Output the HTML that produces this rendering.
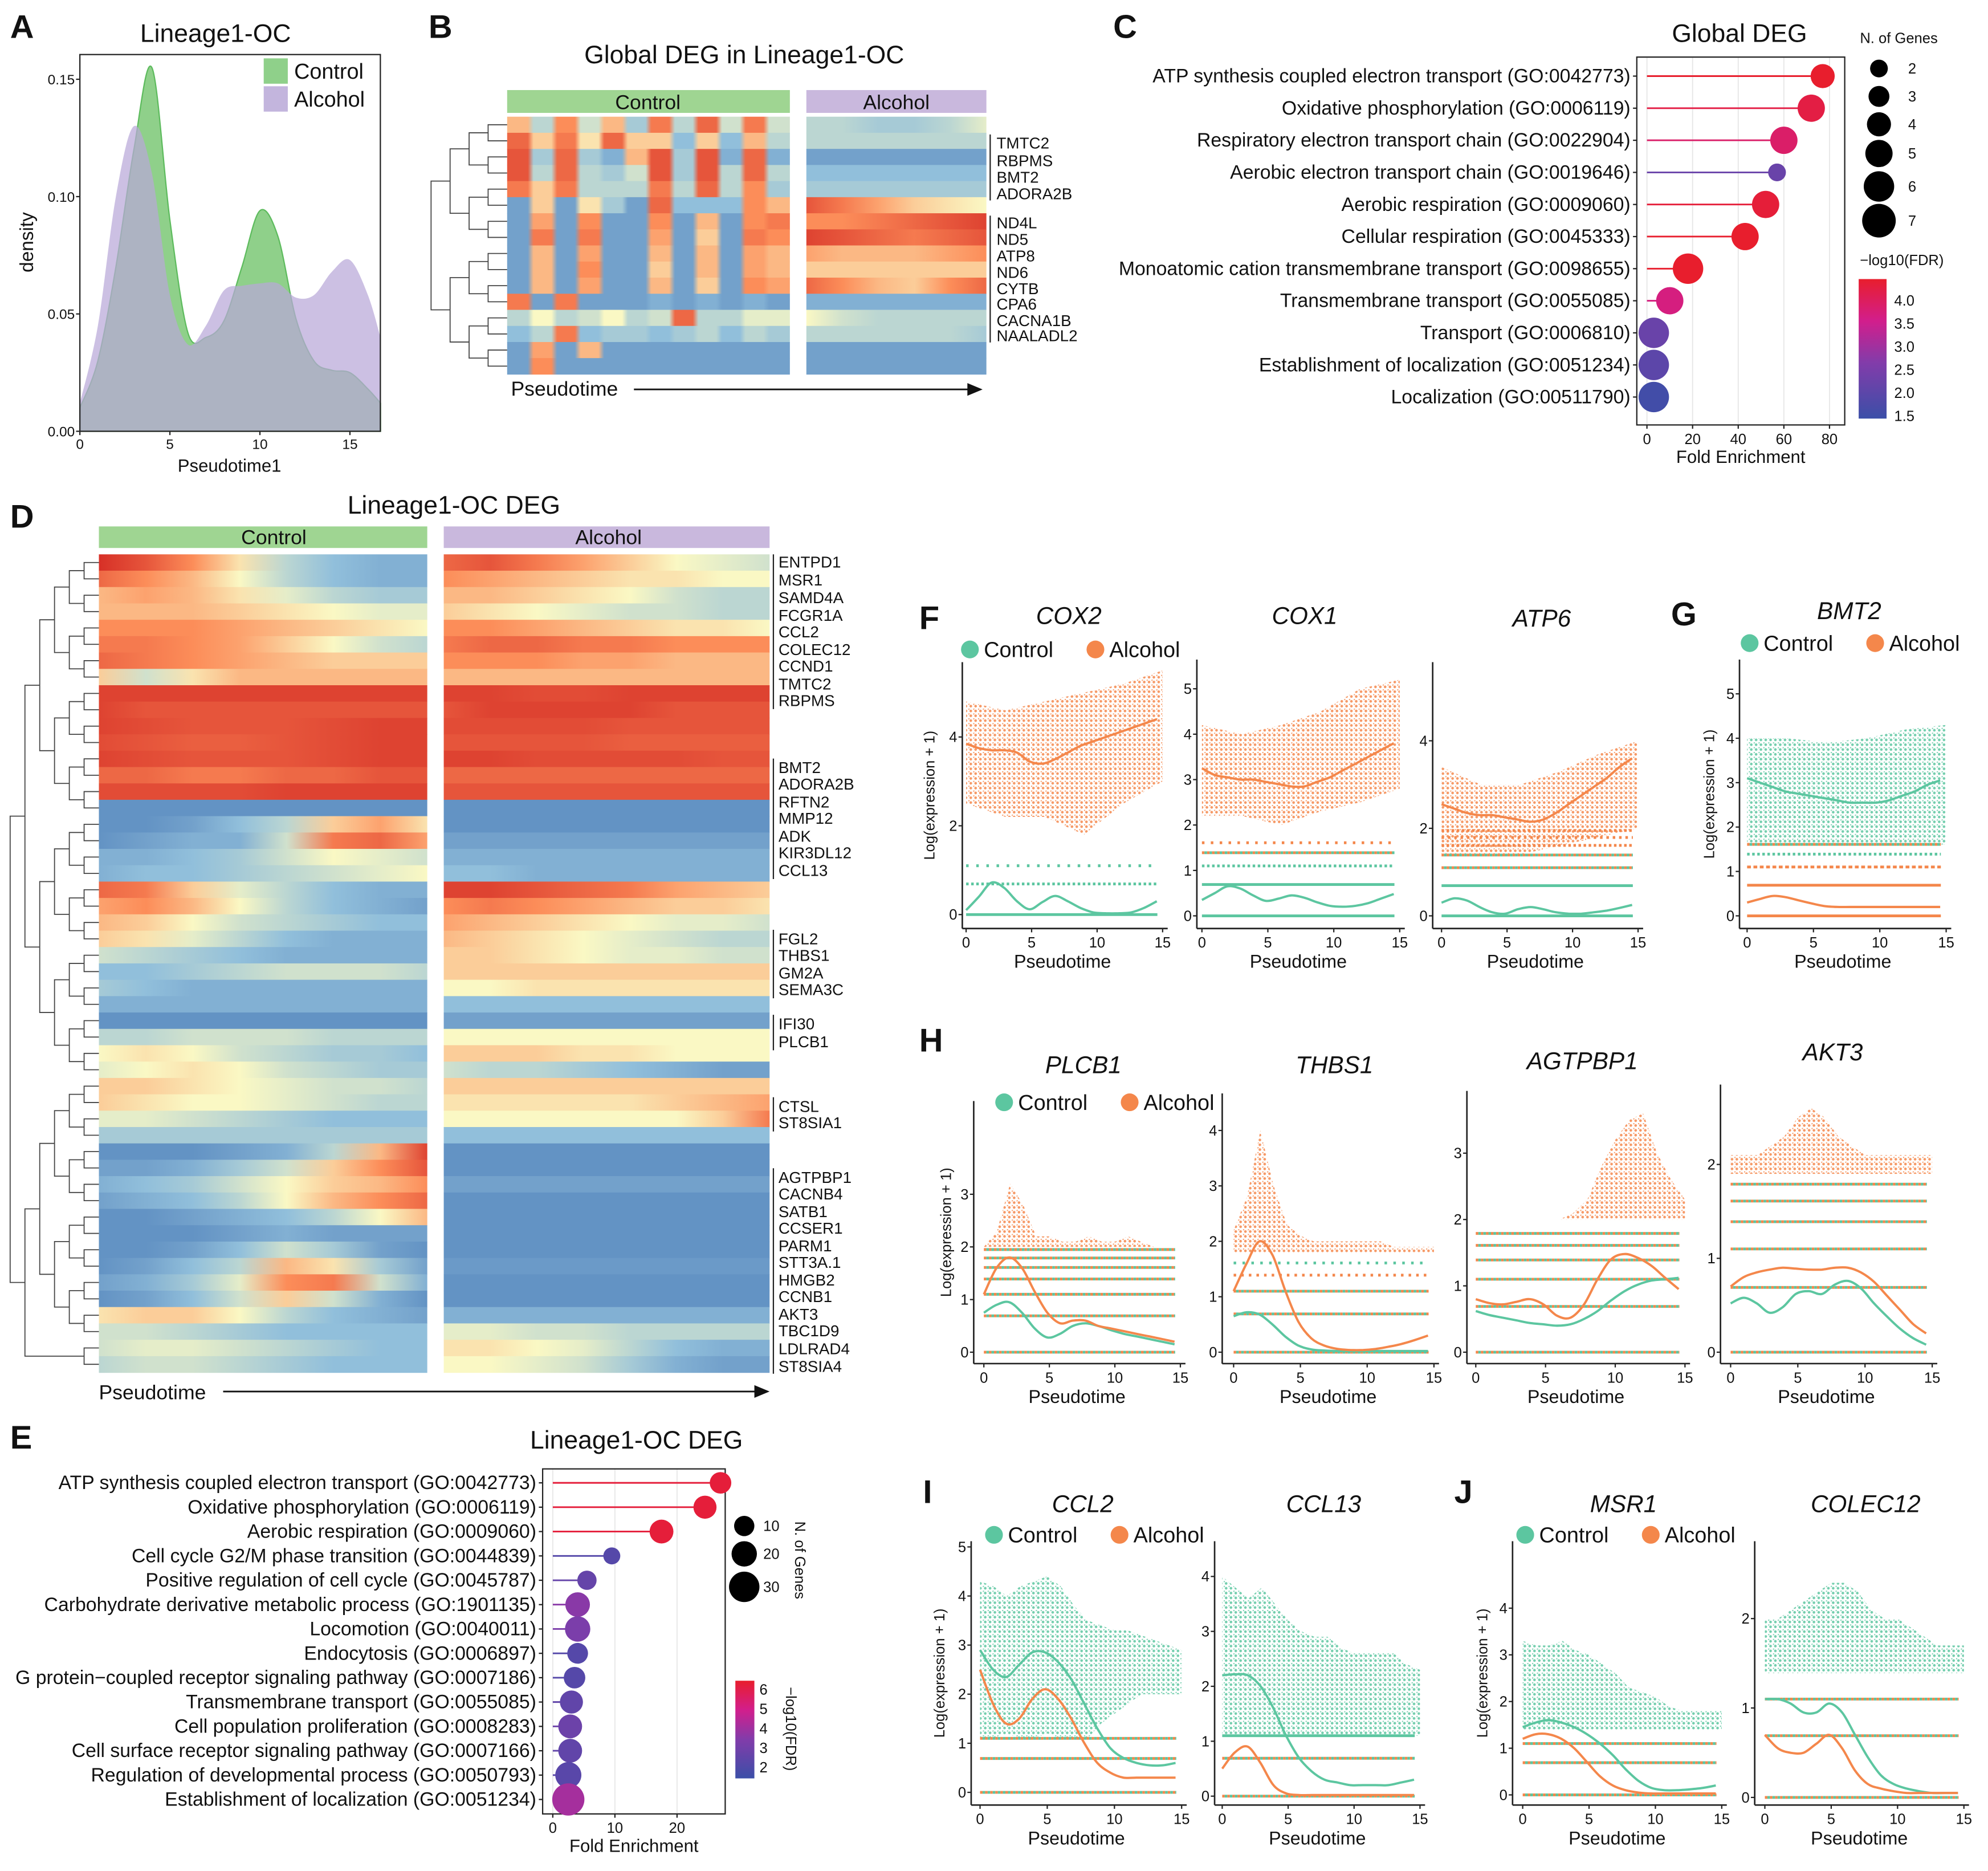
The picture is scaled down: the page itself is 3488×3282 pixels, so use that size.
<!DOCTYPE html>
<html><head><meta charset="utf-8"><style>
html,body{margin:0;padding:0;background:#fff}
svg{display:block;font-family:"Liberation Sans",sans-serif}
</style></head><body>
<svg id="fig" xmlns="http://www.w3.org/2000/svg" width="3488" height="3282" viewBox="0 0 1568 1475" preserveAspectRatio="none">
<defs id="defs"></defs>
</svg>
<script>
// ---------- DATA ----------
const densX = [0,1,2,3,4,5,6,7,8,9,10,11,12,13,14,15,16,16.7];
const densControl = [0.01,0.03,0.07,0.12,0.155,0.09,0.042,0.04,0.047,0.07,0.094,0.083,0.048,0.03,0.026,0.025,0.018,0.012];
const densAlcohol = [0.012,0.045,0.1,0.13,0.11,0.058,0.037,0.045,0.06,0.062,0.063,0.063,0.057,0.058,0.068,0.073,0.058,0.04];

const bGenes = ["TMTC2","RBPMS","BMT2","ADORA2B","ND4L","ND5","ATP8","ND6","CYTB","CPA6","CACNA1B","NAALADL2"];
const bGeneY = [113,127,140,153,176,189,202,215,228,240,253,265];
const bCtrl = [
[.3,-.3,.5,-.2,.3,-.4,.6,-.3,.7,-.2,.6,-.2],
[.7,.2,.6,.1,.7,.2,.2,-.5,.2,-.5,.3,-.3],
[.8,-.4,.7,-.4,-.6,.3,.8,-.4,.8,-.6,.7,-.6],
[.8,-.3,.7,-.3,-.4,-.2,.8,-.4,.8,-.3,.7,-.3],
[.6,.2,.6,-.3,-.3,-.3,.6,-.3,.7,-.3,.5,-.4],
[-.7,.2,-.7,.1,-.4,-.7,.7,-.5,-.5,-.5,.5,.3],
[-.7,.4,-.7,.5,-.7,-.7,.5,-.7,.3,-.7,.5,.6],
[-.7,.6,-.7,.6,-.7,-.7,.4,-.7,.2,-.7,.6,.5],
[-.7,.3,-.7,.4,-.7,-.7,.3,-.7,.3,-.7,.4,.3],
[-.7,.3,-.7,.5,-.7,-.7,.2,-.7,.3,-.7,.4,.3],
[-.7,.3,-.7,.4,-.7,-.7,.3,-.7,.2,-.7,.5,.4],
[.6,-.7,.6,-.7,-.7,-.7,-.6,-.7,-.6,-.7,-.6,-.7],
[-.3,0,-.3,-.2,0,-.3,-.2,.7,-.3,-.3,-.1,-.1],
[-.5,-.3,.6,-.5,-.4,-.4,-.5,-.4,-.3,-.5,-.3,-.4],
[-.7,.4,-.7,.3,-.7,-.7,-.7,-.7,-.7,-.7,-.7,-.7],
[-.7,.5,-.7,-.7,-.7,-.7,-.7,-.7,-.7,-.7,-.7,-.7]];
const bAlc = [
[-.3,-.3,-.4,-.4,-.3,-.1],[-.3,-.3,-.3,-.3,-.3,-.3],[-.7,-.7,-.7,-.7,-.7,-.7],[-.5,-.5,-.5,-.5,-.5,-.5],
[-.4,-.4,-.4,-.4,-.4,-.4],[.8,.6,.4,.2,.1,0],[.5,.5,.6,.7,.8,.9],[.9,.8,.7,.6,.7,.8],
[.4,.3,.3,.3,.4,.5],[.2,.2,.2,.2,.2,.2],[.7,.5,.3,.2,.5,.7],[-.6,-.6,-.6,-.6,-.6,-.6],
[0,-.2,-.3,-.3,-.3,-.3],[-.3,-.3,-.3,-.3,-.3,-.4],[-.7,-.7,-.7,-.7,-.7,-.7],[-.7,-.7,-.7,-.7,-.7,-.7]];

const cTerms = ["ATP synthesis coupled electron transport (GO:0042773)","Oxidative phosphorylation (GO:0006119)","Respiratory electron transport chain (GO:0022904)","Aerobic electron transport chain (GO:0019646)","Aerobic respiration (GO:0009060)","Cellular respiration (GO:0045333)","Monoatomic cation transmembrane transport (GO:0098655)","Transmembrane transport (GO:0055085)","Transport (GO:0006810)","Establishment of localization (GO:0051234)","Localization (GO:00511790)"];
const cFold = [77,72,60,57,52,43,18,10,3,3,3];
const cFdr = [4.2,4.0,3.7,2.2,4.1,4.2,4.3,3.5,2.2,2.0,1.6];
const cGenes = [4,5,5,2,5,5,6,5,6,6,6];
const cTicks = [0,20,40,60,80];

const eTerms = ["ATP synthesis coupled electron transport (GO:0042773)","Oxidative phosphorylation (GO:0006119)","Aerobic respiration (GO:0009060)","Cell cycle G2/M phase transition (GO:0044839)","Positive regulation of cell cycle (GO:0045787)","Carbohydrate derivative metabolic process (GO:1901135)","Locomotion (GO:0040011)","Endocytosis (GO:0006897)","G protein\u2212coupled receptor signaling pathway (GO:0007186)","Transmembrane transport (GO:0055085)","Cell population proliferation (GO:0008283)","Cell surface receptor signaling pathway (GO:0007166)","Regulation of developmental process (GO:0050793)","Establishment of localization (GO:0051234)"];
const eFold = [27,24.5,17.5,9.5,5.5,4,4,4,3.5,3,2.8,2.8,2.5,2.5];
const eFdr = [6,6,6,2.2,2.6,3.5,3.2,2.2,2.2,2.5,2.8,2.5,2.3,4.0];
const eGenes = [10,12,13,4,7,14,15,9,10,12,13,13,16,24];
const eTicks = [0,10,20];

const dGenes = ["ENTPD1","MSR1","SAMD4A","FCGR1A","CCL2","COLEC12","CCND1","TMTC2","RBPMS","BMT2","ADORA2B","RFTN2","MMP12","ADK","KIR3DL12","CCL13","FGL2","THBS1","GM2A","SEMA3C","IFI30","PLCB1","CTSL","ST8SIA1","AGTPBP1","CACNB4","SATB1","CCSER1","PARM1","STT3A.1","HMGB2","CCNB1","AKT3","TBC1D9","LDLRAD4","ST8SIA4"];
const dGeneY = [443,457,471,485,498,512,525,539,552,605,618,632,645,659,672,686,740,753,767,780,807,821,872,885,928,941,955,968,982,995,1009,1022,1036,1049,1063,1077];
const dCtrl = [
[1,.8,.5,.1,-.3,-.5,-.6,-.6],[.7,.5,.3,0,-.3,-.5,-.6,-.6],[.3,.4,.3,.1,-.1,-.3,-.4,-.4],[.3,.3,.3,.2,.1,0,-.1,-.1],
[.5,.5,.5,.4,.3,.2,.1,0],[.6,.6,.5,.4,.2,0,-.2,-.3],[.7,.6,.5,.4,.3,.2,.2,.2],[.2,-.2,.1,.3,.3,.3,.3,.3],
[.9,.9,.9,.9,.9,.9,.9,.9],[.9,.8,.8,.8,.8,.8,.8,.8],[.9,.85,.8,.8,.8,.85,.9,.9],[.85,.8,.75,.75,.8,.85,.9,.9],
[.9,.85,.8,.8,.8,.85,.9,.9],[.7,.7,.6,.6,.7,.7,.8,.8],[.85,.85,.85,.85,.9,.9,.9,.9],[-.8,-.8,-.8,-.8,-.8,-.8,-.8,-.8],
[-.8,-.8,-.7,-.5,-.3,.2,.4,.1],[-.8,-.7,-.6,-.6,-.2,.6,.7,.4],[-.6,-.6,-.5,-.4,-.2,0,-.1,-.2],[-.6,-.5,-.5,-.4,-.3,-.2,-.1,0],
[.7,.6,.2,-.1,-.3,-.5,-.6,-.6],[.4,.5,.3,0,-.3,-.5,-.6,-.7],[.3,.2,0,-.2,-.3,-.4,-.5,-.5],[.2,.1,-.1,-.3,-.5,-.6,-.6,-.6],
[-.2,-.3,-.4,-.5,-.6,-.6,-.6,-.6],[-.5,-.5,-.4,-.3,-.2,-.2,-.2,-.3],[-.4,-.5,-.6,-.6,-.6,-.6,-.6,-.6],[-.6,-.6,-.6,-.6,-.6,-.6,-.6,-.6],
[-.8,-.8,-.8,-.8,-.8,-.8,-.8,-.8],[-.3,-.3,-.2,-.2,-.2,-.3,-.3,-.3],[0,.1,0,-.2,-.3,-.4,-.4,-.5],[-.1,0,.1,0,-.2,-.3,-.4,-.4],
[.2,.2,.1,0,-.1,-.2,-.2,-.3],[.2,.1,0,0,-.1,-.2,-.3,-.3],[-.1,-.1,-.2,-.3,-.4,-.5,-.5,-.5],[-.4,-.4,-.4,-.4,-.4,-.4,-.4,-.4],
[-.8,-.8,-.8,-.7,-.6,-.3,.3,.9],[-.7,-.7,-.6,-.4,-.2,.2,.5,.8],[-.6,-.5,-.4,-.2,0,.2,.3,.5],[-.7,-.6,-.5,-.3,0,.3,.5,.7],
[-.8,-.8,-.7,-.6,-.5,-.3,0,.3],[-.8,-.8,-.8,-.7,-.6,-.7,-.7,-.7],[-.8,-.8,-.7,-.5,-.2,-.4,-.7,-.8],[-.8,-.7,-.5,-.3,.3,.1,-.4,-.7],
[-.7,-.6,-.4,-.1,.5,.6,-.2,-.6],[-.8,-.7,-.5,-.2,.2,-.2,-.6,-.8],[.1,.2,.2,0,-.3,-.5,-.6,-.7],[-.2,-.2,-.3,-.4,-.5,-.5,-.5,-.5],
[-.2,-.1,-.1,-.2,-.3,-.4,-.5,-.5],[-.3,-.2,-.2,-.3,-.4,-.5,-.5,-.5]];
const dAlc = [
[.7,.8,.6,.4,.2,0,-.1,-.2],[.5,.4,.3,.2,.1,.1,0,0],[.3,.3,.2,.1,0,-.2,-.3,-.3],[.2,.1,0,-.1,-.2,-.2,-.3,-.3],
[.5,.5,.4,.3,.2,.1,.1,0],[.6,.7,.7,.6,.6,.5,.5,.5],[.5,.5,.5,.4,.4,.3,.3,.3],[.3,.3,.3,.3,.3,.3,.3,.3],
[.9,.9,.85,.85,.9,.9,.9,.9],[.8,.9,.9,.9,.9,.8,.8,.8],[.85,.85,.85,.85,.8,.8,.8,.8],[.8,.8,.8,.8,.75,.75,.75,.75],
[.9,.9,.85,.85,.85,.85,.8,.8],[.7,.7,.7,.7,.7,.7,.7,.7],[.8,.8,.8,.8,.8,.8,.8,.8],[-.8,-.8,-.8,-.8,-.8,-.8,-.8,-.8],
[-.8,-.8,-.8,-.8,-.8,-.8,-.8,-.8],[-.7,-.7,-.7,-.7,-.7,-.7,-.7,-.7],[-.6,-.6,-.6,-.6,-.6,-.6,-.6,-.6],[-.5,-.5,-.6,-.6,-.6,-.6,-.6,-.6],
[.9,.9,.8,.7,.6,.4,.3,.2],[.5,.6,.5,.4,.3,.2,.2,.1],[.4,.3,.2,.1,0,-.1,-.1,-.2],[.3,.2,.1,0,-.1,-.2,-.3,-.3],
[.2,.2,.1,0,-.1,-.1,-.2,-.2],[.2,.2,.2,.2,.2,.2,.2,.2],[0,0,.1,.1,.1,.1,.1,.1],[-.5,-.5,-.5,-.5,-.5,-.5,-.5,-.5],
[-.7,-.7,-.7,-.7,-.7,-.7,-.7,-.7],[0,0,0,0,0,0,0,0],[.2,.2,.2,.1,.1,0,0,0],[-.2,-.3,-.3,-.4,-.5,-.6,-.7,-.7],
[.2,.2,.2,.2,.2,.2,.2,.2],[.1,.1,.1,.1,.1,.2,.3,.4],[0,0,0,0,0,0,.2,.6],[-.5,-.5,-.5,-.5,-.5,-.5,-.5,-.5],
[-.8,-.8,-.8,-.8,-.8,-.8,-.8,-.8],[-.8,-.8,-.8,-.8,-.8,-.8,-.8,-.8],[-.7,-.7,-.7,-.7,-.7,-.7,-.7,-.7],[-.8,-.8,-.8,-.8,-.8,-.8,-.8,-.8],
[-.8,-.8,-.8,-.8,-.8,-.8,-.8,-.8],[-.8,-.8,-.8,-.8,-.8,-.8,-.8,-.8],[-.8,-.8,-.8,-.8,-.8,-.8,-.8,-.8],[-.75,-.75,-.75,-.75,-.75,-.75,-.75,-.75],
[-.8,-.8,-.8,-.8,-.8,-.8,-.8,-.8],[-.8,-.8,-.8,-.8,-.8,-.8,-.8,-.8],[-.6,-.6,-.6,-.6,-.6,-.6,-.6,-.6],[-.1,-.1,-.2,-.2,-.3,-.3,-.3,-.3],
[.1,.1,0,-.1,-.3,-.5,-.6,-.6],[0,0,-.1,-.2,-.4,-.6,-.7,-.7]];

const sTime = [0,1,2,3,4,5,6,7,8,9,10,11,12,13,14,15];
const cox2Ctrl=[0.1,0.4,0.72,0.6,0.3,0.12,0.28,0.42,0.3,0.15,0.05,0.03,0.03,0.05,0.15,0.3];
const cox2Alc=[3.85,3.75,3.7,3.7,3.65,3.45,3.4,3.5,3.65,3.8,3.9,4.0,4.1,4.2,4.3,4.4];
const cox1Ctrl=[0.35,0.5,0.65,0.6,0.45,0.33,0.38,0.45,0.4,0.3,0.22,0.2,0.22,0.28,0.38,0.48];
const cox1Alc=[3.25,3.1,3.05,3.0,3.0,2.95,2.9,2.85,2.85,2.95,3.05,3.2,3.35,3.5,3.65,3.8];
const atp6Ctrl=[0.3,0.4,0.35,0.2,0.08,0.05,0.15,0.2,0.15,0.08,0.05,0.05,0.08,0.12,0.18,0.25];
const atp6Alc=[2.55,2.45,2.35,2.3,2.3,2.25,2.2,2.15,2.2,2.35,2.55,2.75,2.95,3.15,3.4,3.6];
const bmt2Ctrl=[3.1,3.0,2.9,2.8,2.75,2.7,2.65,2.6,2.55,2.55,2.55,2.6,2.7,2.8,2.95,3.05];
const bmt2Alc=[0.3,0.38,0.45,0.42,0.35,0.28,0.22,0.2,0.2,0.2,0.2,0.2,0.2,0.2,0.2,0.2];
const plcb1Ctrl=[0.75,0.9,0.95,0.75,0.45,0.28,0.35,0.5,0.55,0.5,0.42,0.35,0.3,0.25,0.2,0.15];
const plcb1Alc=[1.1,1.6,1.8,1.6,1.15,0.75,0.55,0.6,0.6,0.5,0.45,0.4,0.35,0.3,0.25,0.2];
const thbs1Ctrl=[0.65,0.72,0.68,0.5,0.28,0.12,0.05,0.03,0.02,0.02,0.02,0.02,0.02,0.02,0.02,0.02];
const thbs1Alc=[1.1,1.6,2.0,1.75,1.1,0.55,0.25,0.12,0.06,0.04,0.04,0.06,0.1,0.15,0.22,0.3];
const agtCtrl=[0.62,0.56,0.52,0.48,0.44,0.42,0.4,0.42,0.5,0.62,0.78,0.92,1.02,1.08,1.1,1.12];
const agtAlc=[0.8,0.74,0.72,0.76,0.8,0.72,0.55,0.52,0.72,1.1,1.4,1.48,1.42,1.3,1.12,0.95];
const akt3Ctrl=[0.52,0.58,0.52,0.42,0.48,0.62,0.65,0.62,0.72,0.76,0.68,0.52,0.38,0.25,0.15,0.08];
const akt3Alc=[0.7,0.8,0.85,0.88,0.9,0.89,0.88,0.88,0.9,0.9,0.85,0.75,0.6,0.45,0.3,0.2];
const ccl2Ctrl=[2.9,2.5,2.35,2.6,2.85,2.85,2.65,2.3,1.8,1.3,0.9,0.7,0.6,0.55,0.55,0.6];
const ccl2Alc=[2.5,1.8,1.4,1.5,1.9,2.1,1.9,1.5,1.0,0.6,0.4,0.3,0.3,0.3,0.3,0.3];
const ccl13Ctrl=[2.2,2.22,2.2,2.0,1.6,1.1,0.7,0.45,0.3,0.25,0.2,0.2,0.2,0.2,0.25,0.3];
const ccl13Alc=[0.5,0.8,0.9,0.6,0.2,0.05,0.02,0.02,0.02,0.02,0.02,0.02,0.02,0.02,0.02,0.02];
const msr1Ctrl=[1.45,1.55,1.6,1.55,1.45,1.3,1.1,0.85,0.55,0.3,0.15,0.1,0.1,0.12,0.15,0.2];
const msr1Alc=[1.2,1.3,1.3,1.2,1.0,0.7,0.4,0.2,0.1,0.05,0.03,0.03,0.03,0.03,0.03,0.03];
const colCtrl=[1.1,1.1,1.05,0.95,0.95,1.05,0.95,0.7,0.45,0.25,0.15,0.1,0.07,0.05,0.05,0.05];
const colAlc=[0.7,0.55,0.5,0.5,0.6,0.7,0.55,0.3,0.15,0.1,0.07,0.05,0.05,0.05,0.05,0.05];
const cox2Lo=[2.5,2.2,2.2,1.8,2.5,3.0], cox2Hi=[4.8,4.6,4.8,5.0,5.2,5.5];
const cox1Lo=[2.2,2.2,2.0,2.3,2.5,2.8], cox1Hi=[4.2,4.0,4.2,4.5,5.0,5.2];
const atp6Lo=[1.4,1.4,1.4,1.6,1.8,2.0], atp6Hi=[3.4,3.0,3.0,3.3,3.7,4.0];
const bmt2Lo=[1.6,1.6,1.6,1.6,1.6,1.6], bmt2Hi=[4.0,4.0,3.9,4.0,4.2,4.3];
const plcb1Lo=[2,2,2,2,2,2,2,2,2,2,2,2,2,2,2,2], plcb1Hi=[2,2.3,3.2,2.8,2.2,2.2,2.1,2.1,2.2,2.1,2.1,2.2,2.1,2,2,2];
const thbs1Lo=[1.8,1.8,1.8,1.8,1.8,1.8,1.8,1.8,1.8,1.8,1.8,1.8,1.8,1.8,1.8,1.8], thbs1Hi=[2.2,2.8,4,3,2.3,2.1,2,2,2,2,2,2,1.9,1.9,1.9,1.9];
const agtLo=[2,2,2,2,2,2,2,2,2,2,2,2,2,2,2,2], agtHi=[2,2,2,2,2,2,2,2.1,2.3,2.8,3.2,3.5,3.6,3,2.6,2.3];
const akt3Lo=[1.9,1.9,1.9,1.9,1.9,1.9,1.9,1.9,1.9,1.9,1.9,1.9,1.9,1.9,1.9,1.9], akt3Hi=[2.1,2.1,2.1,2.2,2.3,2.5,2.6,2.5,2.3,2.2,2.1,2.1,2.1,2.1,2.1,2.1];
const ccl2Lo=[1.1,1.1,1.2,1.1,1.1,1.2,1.1,1.1,1.1,1.4,1.6,1.8,2,2,2,2], ccl2Hi=[4.3,4.2,4.0,4.2,4.3,4.4,4.2,3.8,3.5,3.4,3.3,3.3,3.2,3.1,3,2.9];
const ccl13Lo=[1.1,1.1,1.1,1.1,1.1,1.1,1.1,1.1,1.1,1.1,1.1,1.1,1.1,1.1,1.1,1.1], ccl13Hi=[4,3.8,3.6,3.8,3.5,3.2,3,2.9,2.9,2.7,2.6,2.6,2.6,2.6,2.4,2.3];
const msr1Lo=[1.39,1.39,1.39,1.39,1.39,1.39,1.39,1.39,1.39,1.39,1.39,1.39,1.39,1.39,1.39,1.39], msr1Hi=[3.3,3.2,3.2,3.3,3.1,3,2.8,2.6,2.3,2.2,2.1,1.9,1.8,1.8,1.8,1.8];
const colLo=[1.39,1.39,1.39,1.39,1.39,1.39,1.39,1.39,1.39,1.39,1.39,1.39,1.39,1.39,1.39,1.39], colHi=[2,2,2.1,2.2,2.3,2.4,2.4,2.3,2.1,2,2,1.9,1.8,1.7,1.7,1.7];

// ---------- RENDER ----------
const NS="http://www.w3.org/2000/svg";
const svg=document.getElementById('fig');
const defs=document.getElementById('defs');
function el(tag,attrs,parent,text){const e=document.createElementNS(NS,tag);for(const k in attrs)e.setAttribute(k,attrs[k]);if(text!==undefined)e.textContent=text;(parent||svg).appendChild(e);return e;}
function txt(x,y,s,size,opts,parent){const o=Object.assign({x:x,y:y,'font-size':size,fill:'#111'},opts||{});return el('text',o,parent,s);}
function lerpC(a,b,t){return a.map((v,i)=>Math.round(v+(b[i]-v)*t));}
const rdStops=[[-1,[69,117,180]],[-0.5,[145,191,219]],[0,[250,248,196]],[0.5,[252,141,89]],[1,[215,48,39]]];
function rd(v){v=Math.max(-1,Math.min(1,v));for(let i=0;i<rdStops.length-1;i++){const a=rdStops[i],b=rdStops[i+1];if(v<=b[0]){const c=lerpC(a[1],b[1],(v-a[0])/(b[0]-a[0]));return `rgb(${c})`;}}return 'rgb(215,48,39)';}
const fdrStops=[[0,[59,79,168]],[0.4,[130,60,170]],[0.7,[210,30,140]],[1,[232,30,45]]];
function fdrCol(v,lo,hi){const t=Math.max(0,Math.min(1,(v-lo)/(hi-lo)));for(let i=0;i<fdrStops.length-1;i++){const a=fdrStops[i],b=fdrStops[i+1];if(t<=b[0]){return `rgb(${lerpC(a[1],b[1],(t-a[0])/(b[0]-a[0]))})`;}}return 'rgb(232,30,45)';}
let gid=0;
function rowGrad(vals,sharp){const id='g'+(gid++);const g=el('linearGradient',{id:id},defs);const n=vals.length;
 if(n===1){el('stop',{offset:0,'stop-color':rd(vals[0])},g);el('stop',{offset:1,'stop-color':rd(vals[0])},g);}
 else if(sharp){vals.forEach((v,i)=>{el('stop',{offset:i/n+0.01,'stop-color':rd(v)},g);el('stop',{offset:(i+1)/n-0.01,'stop-color':rd(v)},g);});}
 else vals.forEach((v,i)=>el('stop',{offset:i/(n-1),'stop-color':rd(v)},g));return 'url(#'+id+')';}
function smoothPath(pts){let d='M'+pts[0][0].toFixed(1)+','+pts[0][1].toFixed(1);for(let i=0;i<pts.length-1;i++){const p0=pts[i-1]||pts[i],p1=pts[i],p2=pts[i+1],p3=pts[i+2]||p2;const c1=[p1[0]+(p2[0]-p0[0])/6,p1[1]+(p2[1]-p0[1])/6],c2=[p2[0]-(p3[0]-p1[0])/6,p2[1]-(p3[1]-p1[1])/6];d+=`C${c1[0].toFixed(1)},${c1[1].toFixed(1)} ${c2[0].toFixed(1)},${c2[1].toFixed(1)} ${p2[0].toFixed(1)},${p2[1].toFixed(1)}`;}return d;}
function dendro(ys,xR,xL,parent){let nodes=ys.map(y=>({y:y,x:xR}));const levels=Math.ceil(Math.log2(ys.length));let L=1;
 while(nodes.length>1){const nx=xR-(xR-xL)*L/levels;const nn=[];for(let i=0;i<nodes.length;i+=2){if(i+1<nodes.length){const a=nodes[i],b=nodes[i+1];el('path',{d:`M${a.x},${a.y}H${nx}V${b.y}H${b.x}`,fill:'none',stroke:'#444','stroke-width':0.8},parent);nn.push({y:(a.y+b.y)/2,x:nx});}else nn.push(nodes[i]);}nodes=nn;L++;}}
const GREEN='#5cc6a0',ORANGE='#f4874b';
function pattern(id,col,sp){const p=el('pattern',{id:id,width:sp,height:sp,patternUnits:'userSpaceOnUse'},defs);el('circle',{cx:sp/2,cy:sp/2,r:1.05,fill:col},p);el('circle',{cx:0,cy:0,r:1.05,fill:col},p);}
pattern('dotO',ORANGE,3.8);pattern('dotG',GREEN,3.8);

[['A',8,30],['B',338,30],['C',878,30],['D',8,416],['E',8,1142],['F',725,496],['G',1318,493],['H',725,829],['I',728,1185],['J',1147,1185]].forEach(l=>{const t=txt(l[1],l[2],l[0],26,{'font-weight':'bold'});});

// ---------- PANEL A ----------
(function(){const g=el('g',{});
 const X=v=>63+v*14.2, Y=v=>340-v*1850;
 txt(170,33,'Lineage1-OC',20,{'text-anchor':'middle'},g);
 const area=(arr,fill,op,stroke,name)=>{const pts=densX.map((x,i)=>[X(x),Y(arr[i])]);const d=smoothPath(pts)+`L${X(16.7)},340L63,340Z`;const p=el('path',{d:d,fill:fill,'fill-opacity':op,stroke:stroke,'stroke-width':1},g);};
 area(densControl,'#8fd08a',1,'#5dbb5d','density-control');
 area(densAlcohol,'#b8a8d8',0.72,'none','density-alcohol');
 el('rect',{x:63,y:43,width:237,height:297,fill:'none',stroke:'#222','stroke-width':1},g);
 [0,0.05,0.10,0.15].forEach(v=>{el('line',{x1:60,x2:63,y1:Y(v),y2:Y(v),stroke:'#222'},g);txt(59,Y(v)+4,v.toFixed(2),11,{'text-anchor':'end'},g);});
 [0,5,10,15].forEach(v=>{el('line',{x1:X(v),x2:X(v),y1:340,y2:343,stroke:'#222'},g);txt(X(v),354,String(v),11,{'text-anchor':'middle'},g);});
 txt(181,372,'Pseudotime1',14,{'text-anchor':'middle'},g);
 txt(26,191,'density',15,{'text-anchor':'middle',transform:'rotate(-90 26 191)'},g);
 el('rect',{x:208,y:46,width:19,height:20,fill:'#8fd08a'},g);txt(232,62,'Control',17,{},g);
 el('rect',{x:208,y:68,width:19,height:20,fill:'#c3b5dd'},g);txt(232,84,'Alcohol',17,{},g);
})();

// ---------- PANEL B ----------
(function(){const g=el('g',{});
 txt(587,50,'Global DEG in Lineage1-OC',20,{'text-anchor':'middle'},g);
 el('rect',{x:400,y:71,width:223,height:18,fill:'#9fd592'},g);txt(511,86,'Control',16,{'text-anchor':'middle'},g);
 el('rect',{x:636,y:71,width:142,height:18,fill:'#c9b8dd'},g);txt(707,86,'Alcohol',16,{'text-anchor':'middle'},g);
 const top=92,rh=(295-92)/bCtrl.length;const ys=[];
 bCtrl.forEach((r,i)=>{const y=top+i*rh;ys.push(y+rh/2);
  const a=el('rect',{x:400,y:y,width:223,height:rh+0.3,fill:rowGrad(r,true)},g);
  const b=el('rect',{x:636,y:y,width:142,height:rh+0.3,fill:rowGrad(bAlc[i],false)},g);});
 dendro(ys,400,340,g);
 el('line',{x1:781,x2:781,y1:106,y2:158,stroke:'#222'},g);el('line',{x1:781,x2:781,y1:170,y2:270,stroke:'#222'},g);
 bGenes.forEach((s,i)=>txt(786,bGeneY[i]+4,s,12.5,{},g));
 txt(403,312,'Pseudotime',16,{},g);el('line',{x1:500,x2:770,y1:307,y2:307,stroke:'#111','stroke-width':1.3},g);el('path',{d:'M775,307L763,302L763,312Z',fill:'#111'},g);
})();

// ---------- LOLLIPOP ----------
function lollipop(cfg){const g=el('g',{});
 const X=v=>cfg.x0+v*cfg.ppu;
 txt(cfg.tx,cfg.ty,cfg.title,20,{'text-anchor':'middle'},g);
 cfg.ticks.forEach(t=>el('line',{x1:X(t),x2:X(t),y1:cfg.top,y2:cfg.bot,stroke:'#e6e6e6','stroke-width':0.8},g));
 el('rect',{x:cfg.left,y:cfg.top,width:cfg.right-cfg.left,height:cfg.bot-cfg.top,fill:'none',stroke:'#222','stroke-width':1},g);
 cfg.terms.forEach((t,i)=>{const y=cfg.y0+i*cfg.dy;const c=fdrCol(cfg.fdr[i],cfg.flo,cfg.fhi);
  el('line',{x1:cfg.left-3,x2:cfg.left,y1:y,y2:y,stroke:'#222'},g);
  const lab=txt(cfg.left-5,y+5,t,cfg.fs,{'text-anchor':'end'},g);
  const ln=el('line',{x1:X(0),x2:X(cfg.fold[i]),y1:y,y2:y,stroke:c,'stroke-width':1.3},g);
  const dot=el('circle',{cx:X(cfg.fold[i]),cy:y,r:cfg.rad(cfg.genes[i]),fill:c},g);});
 cfg.ticks.forEach(t=>{el('line',{x1:X(t),x2:X(t),y1:cfg.bot,y2:cfg.bot+3,stroke:'#222'},g);txt(X(t),cfg.bot+15,String(t),11.5,{'text-anchor':'middle'},g);});
 txt((cfg.left+cfg.right)/2,cfg.bot+30,'Fold Enrichment',14,{'text-anchor':'middle'},g);
 return g;}
lollipop({name:'panel-c-lollipop',title:'Global DEG',tx:1372,ty:33,terms:cTerms,fold:cFold,fdr:cFdr,genes:cGenes,ticks:cTicks,x0:1299,ppu:1.8,left:1291,right:1455,top:45,bot:335,y0:60,dy:25.3,fs:15.2,flo:1.5,fhi:4.2,rad:n=>4.5+n*1.25});
(function(){const g=el('g',{});
 txt(1467,34,'N. of Genes',11.5,{},g);
 [2,3,4,5,6,7].forEach((n,i)=>{const y=[54,76,98,121,147,174][i];el('circle',{cx:1482,cy:y,r:4.5+n*1.25,fill:'#000'},g);txt(1505,y+4,String(n),11.5,{},g);});
 txt(1467,209,'\u2212log10(FDR)',11.5,{},g);
 const lg=el('linearGradient',{id:'cbarC',x1:0,y1:1,x2:0,y2:0},defs);fdrStops.forEach(s=>el('stop',{offset:s[0],'stop-color':`rgb(${s[1]})`},lg));
 el('rect',{x:1466,y:220,width:22,height:110,fill:'url(#cbarC)'},g);
 [4.0,3.5,3.0,2.5,2.0,1.5].forEach((v,i)=>txt(1494,241+i*18.2,v.toFixed(1),11.5,{},g));})();

lollipop({name:'panel-e-lollipop',title:'Lineage1-OC DEG',tx:502,ty:1142,terms:eTerms,fold:eFold,fdr:eFdr,genes:eGenes,ticks:eTicks,x0:436,ppu:4.9,left:428,right:572,top:1158,bot:1430,y0:1169,dy:19.2,fs:15.2,flo:1.5,fhi:6.2,rad:n=>5.5+n*0.3});
(function(){const g=el('g',{});
 [10,20,30].forEach((n,i)=>{const y=[1203,1225,1251][i];el('circle',{cx:587,cy:y,r:[8,10,12][i],fill:'#000'},g);txt(602,y+4,String(n),11.5,{},g);});
 txt(627,1230,'N. of Genes',11.5,{'text-anchor':'middle',transform:'rotate(90 627 1230)'},g);
 const lg=el('linearGradient',{id:'cbarE',x1:0,y1:1,x2:0,y2:0},defs);fdrStops.forEach(s=>el('stop',{offset:s[0],'stop-color':`rgb(${s[1]})`},lg));
 el('rect',{x:580,y:1325,width:15,height:77,fill:'url(#cbarE)'},g);
 [6,5,4,3,2].forEach((v,i)=>txt(599,1336+i*15.3,String(v),11.5,{},g));
 txt(620,1363,'\u2212log10(FDR)',11.5,{'text-anchor':'middle',transform:'rotate(90 620 1363)'},g);})();

// ---------- PANEL D ----------
(function(){const g=el('g',{});
 txt(358,405,'Lineage1-OC DEG',20,{'text-anchor':'middle'},g);
 el('rect',{x:78,y:415,width:259,height:17,fill:'#9fd592'},g);txt(216,429,'Control',16,{'text-anchor':'middle'},g);
 el('rect',{x:350,y:415,width:257,height:17,fill:'#c9b8dd'},g);txt(480,429,'Alcohol',16,{'text-anchor':'middle'},g);
 const top=437,rh=(1082-437)/dCtrl.length,ys=[];
 dCtrl.forEach((r,i)=>{const y=top+i*rh;ys.push(y+rh/2);
  const a=el('rect',{x:78,y:y,width:259,height:rh+0.3,fill:rowGrad(r,false)},g);
  const b=el('rect',{x:350,y:y,width:257,height:rh+0.3,fill:rowGrad(dAlc[i],false)},g);});
 dendro(ys,78,8,g);
 [[437,559],[598,693],[733,787],[800,828],[865,892],[921,1083]].forEach(s=>el('line',{x1:610,x2:610,y1:s[0],y2:s[1],stroke:'#222'},g));
 dGenes.forEach((s,i)=>txt(614,dGeneY[i]+4.5,s,12.5,{},g));
 txt(78,1103,'Pseudotime',16,{},g);el('line',{x1:176,x2:600,y1:1097,y2:1097,stroke:'#111','stroke-width':1.3},g);el('path',{d:'M607,1097L595,1092L595,1102Z',fill:'#111'},g);
})();

// ---------- MINI SCATTER PLOTS ----------
function mini(c){const g=el('g',{});
 const X=v=>c.x0+v*(c.x15-c.x0)/15, Y=v=>c.y0-v*c.ppu;
 txt((c.ax+c.x15)/2+5,c.ty,c.title,19,{'text-anchor':'middle','font-style':'italic'},g);
 if(c.lo){const n=c.lo.length;const up=c.hi.map((v,i)=>[X(15*i/(n-1)),Y(v)]);const dn=c.lo.map((v,i)=>[X(15*i/(n-1)),Y(v)]).reverse();
  const p=el('path',{d:'M'+up.concat(dn).map(p=>p[0].toFixed(1)+','+p[1].toFixed(1)).join('L')+'Z',fill:c.cloud==='o'?'url(#dotO)':'url(#dotG)','fill-opacity':0.85},g);}
 (c.lv||[]).forEach(l=>{const col=l[1]==='o'?ORANGE:(l[1]==='g'?GREEN:null);
  if(col){el('line',{x1:X(0),x2:X(14.6),y1:Y(l[0]),y2:Y(l[0]),stroke:col,'stroke-width':2.2,'stroke-dasharray':l[2]||'0'},g);}
  else{el('line',{x1:X(0),x2:X(14.6),y1:Y(l[0]),y2:Y(l[0]),stroke:ORANGE,'stroke-width':2.2,'stroke-dasharray':'2 2'},g);el('line',{x1:X(0),x2:X(14.6),y1:Y(l[0]),y2:Y(l[0]),stroke:GREEN,'stroke-width':2.2,'stroke-dasharray':'2 2','stroke-dashoffset':2},g);}});
 const cv=(arr,col,name)=>{const p=el('path',{d:smoothPath(sTime.map((t,i)=>[X(t*0.97),Y(arr[i])])),fill:'none',stroke:col,'stroke-width':1.8},g);};
 cv(c.ctrl,GREEN,'control-smooth');cv(c.alc,ORANGE,'alcohol-smooth');
 el('line',{x1:c.ax,x2:c.ax,y1:c.top,y2:c.bot,stroke:'#222','stroke-width':1.2},g);
 el('line',{x1:c.ax,x2:c.x15+4,y1:c.bot,y2:c.bot,stroke:'#222','stroke-width':1.2},g);
 c.yt.forEach(v=>{el('line',{x1:c.ax-3,x2:c.ax,y1:Y(v),y2:Y(v),stroke:'#222'},g);txt(c.ax-4,Y(v)+4,String(v),11.5,{'text-anchor':'end'},g);});
 [0,5,10,15].forEach(v=>{el('line',{x1:X(v),x2:X(v),y1:c.bot,y2:c.bot+3,stroke:'#222'},g);txt(X(v),c.bot+15,String(v),11.5,{'text-anchor':'middle'},g);});
 txt((c.ax+c.x15)/2,c.bot+31,'Pseudotime',14.5,{'text-anchor':'middle'},g);
 if(c.ylab){txt(c.ylab,(c.top+c.bot)/2,'Log(expression + 1)',11.5,{'text-anchor':'middle',transform:`rotate(-90 ${c.ylab} ${(c.top+c.bot)/2})`},g);}
 return g;}
function legend(x,y){const g=el('g',{});
 el('circle',{cx:x,cy:y,r:7,fill:GREEN},g);txt(x+11,y+6,'Control',17,{},g);el('circle',{cx:x+99,cy:y,r:7,fill:ORANGE},g);txt(x+110,y+6,'Alcohol',17,{},g);}
const fullLv=[[0,'og'],[0.69,'og'],[1.1,'og'],[1.39,'og'],[1.61,'og'],[1.79,'og'],[1.95,'og']];
mini({title:'COX2',ty:492,ax:759,x0:762,x15:917,y0:721,ppu:35,yt:[0,2,4],top:522,bot:732,ctrl:cox2Ctrl,alc:cox2Alc,lo:cox2Lo,hi:cox2Hi,cloud:'o',lv:[[0,'g'],[0.69,'g','2 2'],[1.1,'g','2 6']],ylab:737});
mini({title:'COX1',ty:492,ax:944,x0:948,x15:1104,y0:722,ppu:35.8,yt:[0,1,2,3,4,5],top:520,bot:732,ctrl:cox1Ctrl,alc:cox1Alc,lo:cox1Lo,hi:cox1Hi,cloud:'o',lv:[[0,'g'],[0.69,'g'],[1.1,'g','2 2'],[1.39,'og'],[1.61,'o','2 5']]});
mini({title:'ATP6',ty:494,ax:1130,x0:1137,x15:1292,y0:722,ppu:34.5,yt:[0,2,4],top:522,bot:732,ctrl:atp6Ctrl,alc:atp6Alc,lo:atp6Lo,hi:atp6Hi,cloud:'o',lv:[[0,'g'],[0.69,'g'],[1.1,'og'],[1.39,'og'],[1.61,'o','2 2'],[1.79,'o','2 3'],[1.95,'o','2 2']]});
mini({title:'BMT2',ty:488,ax:1372,x0:1378,x15:1535,y0:722,ppu:35,yt:[0,1,2,3,4,5],top:520,bot:732,ctrl:bmt2Ctrl,alc:bmt2Alc,lo:bmt2Lo,hi:bmt2Hi,cloud:'g',lv:[[0,'o'],[0.69,'o'],[1.1,'o','3 2'],[1.39,'g','2 2'],[1.61,'og']],ylab:1352});
legend(765,512);legend(1380,507);
mini({title:'PLCB1',ty:846,ax:768,x0:776,x15:931,y0:1066,ppu:41.5,yt:[0,1,2,3],top:868,bot:1075,ctrl:plcb1Ctrl,alc:plcb1Alc,lo:plcb1Lo,hi:plcb1Hi,cloud:'o',lv:fullLv,ylab:750});
mini({title:'THBS1',ty:846,ax:964,x0:973,x15:1131,y0:1066,ppu:43.7,yt:[0,1,2,3,4],top:862,bot:1075,ctrl:thbs1Ctrl,alc:thbs1Alc,lo:thbs1Lo,hi:thbs1Hi,cloud:'o',lv:[[0,'og'],[0.69,'og'],[1.1,'og'],[1.39,'o','2 4'],[1.61,'g','2 5']]});
mini({title:'AGTPBP1',ty:843,ax:1157,x0:1164,x15:1329,y0:1066,ppu:52.3,yt:[0,1,2,3],top:860,bot:1075,ctrl:agtCtrl,alc:agtAlc,lo:agtLo,hi:agtHi,cloud:'o',lv:[[0,'og'],[0.69,'og'],[1.1,'og'],[1.39,'og'],[1.61,'og'],[1.79,'og']]});
mini({title:'AKT3',ty:836,ax:1357,x0:1365,x15:1524,y0:1066,ppu:74,yt:[0,1,2],top:855,bot:1075,ctrl:akt3Ctrl,alc:akt3Alc,lo:akt3Lo,hi:akt3Hi,cloud:'o',lv:[[0,'og'],[0.69,'og'],[1.1,'og'],[1.39,'og'],[1.61,'og'],[1.79,'og']]});
legend(792,869);
mini({title:'CCL2',ty:1192,ax:766,x0:773,x15:932,y0:1413,ppu:38.7,yt:[0,1,2,3,4,5],top:1215,bot:1423,ctrl:ccl2Ctrl,alc:ccl2Alc,lo:ccl2Lo,hi:ccl2Hi,cloud:'g',lv:[[0,'og'],[0.69,'og'],[1.1,'og']],ylab:745});
mini({title:'CCL13',ty:1192,ax:958,x0:964,x15:1120,y0:1416,ppu:43.3,yt:[0,1,2,3,4],top:1215,bot:1423,ctrl:ccl13Ctrl,alc:ccl13Alc,lo:ccl13Lo,hi:ccl13Hi,cloud:'g',lv:[[0,'og'],[0.69,'og'],[1.1,'g']]});
mini({title:'MSR1',ty:1192,ax:1193,x0:1201,x15:1358,y0:1415,ppu:36.8,yt:[0,1,2,3,4],top:1215,bot:1423,ctrl:msr1Ctrl,alc:msr1Alc,lo:msr1Lo,hi:msr1Hi,cloud:'g',lv:[[0,'og'],[0.69,'og'],[1.1,'og']],ylab:1173});
mini({title:'COLEC12',ty:1192,ax:1384,x0:1392,x15:1549,y0:1417,ppu:70.5,yt:[0,1,2],top:1215,bot:1423,ctrl:colCtrl,alc:colAlc,lo:colLo,hi:colHi,cloud:'g',lv:[[0,'og'],[0.69,'og'],[1.1,'og']]});
legend(784,1210);legend(1203,1210);
</script>
</body></html>
